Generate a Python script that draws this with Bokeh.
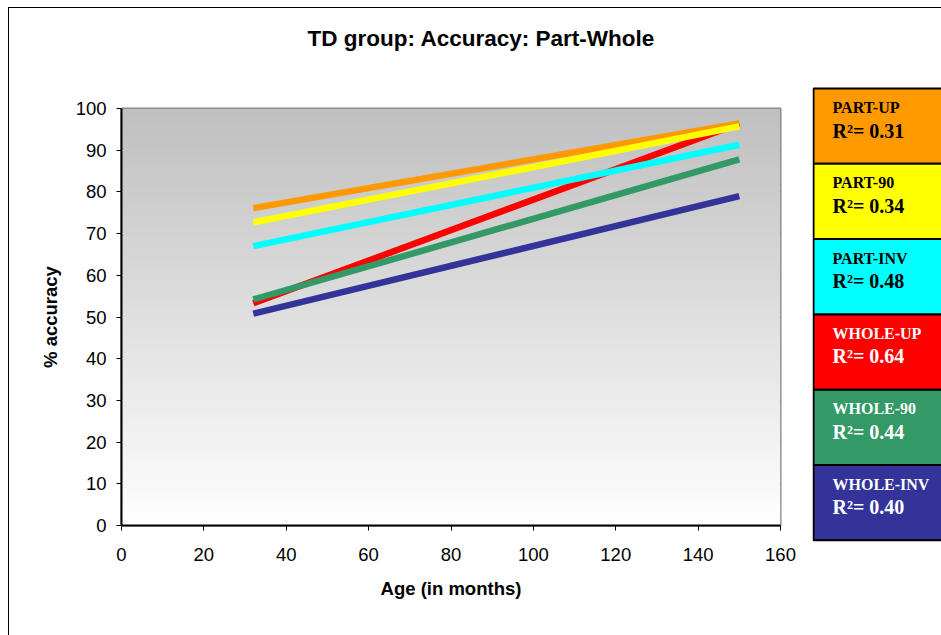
import numpy as np
from bokeh.plotting import figure
from bokeh.layouts import row
from bokeh.models import Range1d, FixedTicker, ColumnDataSource, LinearAxis
from bokeh.core.properties import value
from bokeh.embed import file_html
from bokeh.resources import INLINE

# ---- data ----
series = ["PART-UP", "PART-90", "PART-INV", "WHOLE-UP", "WHOLE-90", "WHOLE-INV"]
r2_values = ["0.31", "0.34", "0.48", "0.64", "0.44", "0.40"]
colors = ["#FF9900", "#FFFF00", "#00FFFF", "#FF0000", "#339966", "#333399"]
text_colors = ["black", "black", "black", "white", "white", "white"]
age = [32, 150]
acc_start = [76.1, 72.7, 67.0, 53.3, 54.2, 50.8]
acc_end = [96.4, 95.7, 91.3, 96.4, 87.8, 79.0]
draw_order = [3, 0, 1, 2, 4, 5]
x_ticks = [0, 20, 40, 60, 80, 100, 120, 140, 160]
y_ticks = [0, 10, 20, 30, 40, 50, 60, 70, 80, 90, 100]
title_text = "TD group: Accuracy: Part-Whole"

FONT = "Liberation Sans"
H = 635
MAIN_W = 812
LEG_W = 941 - MAIN_W

# ---------------- main chart ----------------
p = figure(width=MAIN_W, height=H, x_range=Range1d(0, 160), y_range=Range1d(0, 100),
           output_backend="svg", toolbar_location=None, frame_align=False,
           min_border_left=121, min_border_right=32, min_border_top=108, min_border_bottom=110)
p.border_fill_color = None
p.styles = {
    "background": "linear-gradient(#000,#000) 8px 7px / 1px calc(100% - 7px) no-repeat, "
                  "linear-gradient(#000,#000) 8px 7px / calc(100% - 8px) 1px no-repeat, #ffffff"
}

# title
p.title.text = title_text
p.title.text_font = FONT
p.title.text_font_style = "bold"
p.title.text_font_size = "22.5px"
p.title.text_color = "black"
p.title.align = "left"
p.title.offset = 186
p.title.standoff = 0

xax = p.below[0]
yax = p.left[0]

# blank spacer axis between title and plot area (white tick on white background)
spacer = LinearAxis(ticker=FixedTicker(ticks=[0]), axis_line_color=None,
                    major_tick_line_color="white", minor_tick_line_color=None,
                    major_label_overrides={0: ""}, major_label_standoff=0,
                    major_label_text_font_size="1px",
                    major_tick_out=58, major_tick_in=0)
p.add_layout(spacer, "above")

# gradient plot-area background
n = 200
g = np.linspace(255, 192, n).astype(np.uint8)
img = np.zeros((n, 1), dtype=np.uint32)
view = img.view(dtype=np.uint8).reshape((n, 1, 4))
view[:, 0, 0] = g
view[:, 0, 1] = g
view[:, 0, 2] = g
view[:, 0, 3] = 255
p.image_rgba(image=[img], x=0, y=0, dw=160, dh=100)

p.xgrid.visible = False
p.ygrid.grid_line_color = "black"
p.ygrid.grid_line_width = 1
p.ygrid.ticker = FixedTicker(ticks=y_ticks)
p.outline_line_color = "#808080"
p.outline_line_width = 2

for ax in (xax, yax):
    ax.axis_line_color = "black"
    ax.axis_line_width = 2
    ax.major_tick_line_color = "black"
    ax.major_tick_line_width = 1
    ax.major_tick_out = 5
    ax.major_tick_in = 0
    ax.minor_tick_line_color = None
    ax.major_label_text_font = FONT
    ax.major_label_text_font_size = "18.5px"
    ax.major_label_text_color = "black"
    ax.axis_label_text_font = FONT
    ax.axis_label_text_font_size = "18.5px"
    ax.axis_label_text_font_style = "bold"
    ax.axis_label_text_color = "black"

xax.ticker = FixedTicker(ticks=x_ticks)
yax.ticker = FixedTicker(ticks=y_ticks)
xax.axis_label = "Age (in months)"
yax.axis_label = "% accuracy"
xax.major_label_standoff = 17
xax.axis_label_standoff = 14
yax.major_label_standoff = 10
yax.axis_label_standoff = 12

for i in draw_order:
    p.line(x=age, y=[acc_start[i], acc_end[i]], line_color=colors[i], line_width=6.5)

# ---------------- legend panel ----------------
leg = figure(frame_width=LEG_W, frame_height=H, x_range=Range1d(0, LEG_W), y_range=Range1d(H, 0),
             output_backend="svg", toolbar_location=None, frame_align=False,
             min_border_left=0, min_border_right=0, min_border_top=0, min_border_bottom=0)
leg.axis.visible = False
leg.grid.visible = False
leg.outline_line_color = None
leg.border_fill_color = None
leg.background_fill_color = None
leg.title.visible = False
leg.styles = {"background": "linear-gradient(#000,#000) 0 7px / 100% 1px no-repeat, #ffffff"}

box_top0 = 88
box_h = 75.3
tops = [box_top0 + i * box_h for i in range(len(series))]
src = ColumnDataSource(dict(
    top=tops,
    bottom=[t + box_h for t in tops],
    color=colors,
    tcolor=text_colors,
    name=series,
    r2=["R\u00b2= " + v for v in r2_values],
    name_y=[t + 19 for t in tops],
    r2_y=[t + 42 for t in tops],
))
leg.quad(left=1, right=LEG_W + 10, top="top", bottom="bottom", fill_color="color",
         line_color="black", line_width=2, source=src)
leg.text(x=20, y="name_y", text="name", text_color="tcolor", text_font=value("Liberation Serif"),
         text_font_style="bold", text_font_size="16px", text_baseline="alphabetic", source=src)
leg.text(x=20, y="r2_y", text="r2", text_color="tcolor", text_font=value("Liberation Serif"),
         text_font_style="bold", text_font_size="20px", text_baseline="alphabetic", source=src)

layout = row(p, leg)
open("out.html", "w").write(file_html(layout, INLINE))
